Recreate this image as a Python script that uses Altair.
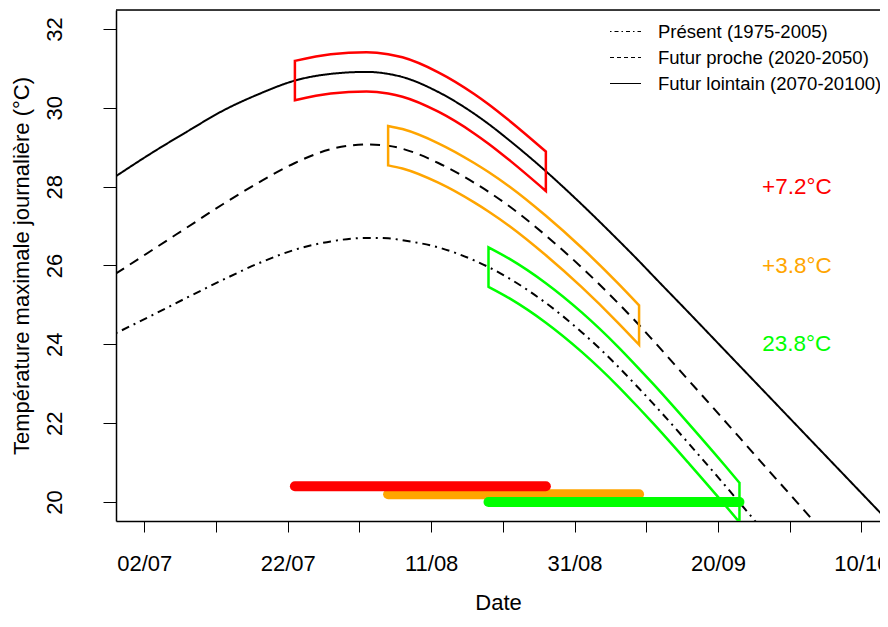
import altair as alt
import pandas as pd

# ---- data (day of year, 2021 calendar) ----
days = [179, 184, 189, 194, 199, 204, 209, 214, 217, 219, 224, 229, 231, 234,
        239, 244, 249, 252, 254, 259, 264, 266, 269, 274, 279, 284, 287]

present = [24.28, 24.73, 25.19, 25.64, 26.06, 26.40, 26.61, 26.70, 26.69, 26.64,
           26.46, 26.13, 25.96, 25.66, 25.05, 24.31, 23.45, 22.88, 22.49, 21.47,
           20.42, 19.99, 19.34, None, None, None, None]
futur_proche = [25.79, 26.38, 26.97, 27.56, 28.11, 28.60, 28.95, 29.07, 29.04, 28.96,
                28.60, 28.10, 27.87, 27.49, 26.76, 25.95, 25.06, 24.49, 24.09, 23.07,
                22.05, 21.64, 21.02, 20.00, 18.97, None, None]
futur_lointain = [28.26, 28.85, 29.40, 29.93, 30.35, 30.69, 30.86, 30.91, 30.86, 30.78,
                  30.40, 29.85, 29.59, 29.16, 28.39, 27.55, 26.66, 26.11, 25.73, 24.79,
                  23.84, 23.46, 22.89, 21.94, 20.99, 20.04, 19.47]

series_names = ["Présent (1975-2005)", "Futur proche (2020-2050)", "Futur lointain (2070-20100)"]
series_values = [present, futur_proche, futur_lointain]

window_start = [231, 217, 204]
window_end = [266, 252, 239]
bar_levels = [20.0, 20.2, 20.4]
half_width = 0.5
window_colors = ["#00FF00", "#FFA500", "#FF0000"]

annot_labels = ["23.8°C", "+3.8°C", "+7.2°C"]
annot_day = [274, 274, 274]
annot_temp = [24, 26, 28]

tick_days = [183, 193, 203, 213, 223, 233, 243, 253, 263, 273, 283]
tick_labels = ["02/07", "", "22/07", "", "11/08", "", "31/08", "", "20/09", "", "10/10"]
y_ticks = [20, 22, 24, 26, 28, 30, 32]
x_domain = [179.05, 285.6]
y_domain = [19.52, 32.48]

FONT = "Liberation Sans"

# ---- tables ----
curve_rows = []
for name, vals in zip(series_names, series_values):
    for d, v in zip(days, vals):
        if v is not None:
            curve_rows.append({"day": d, "temp": v, "series": name})
curves = pd.DataFrame(curve_rows)

band_rows = []
for name, vals, s, e in zip(series_names, series_values, window_start, window_end):
    for d, v in zip(days, vals):
        if v is not None and s <= d <= e:
            band_rows.append({"day": d, "upper": v + half_width, "lower": v - half_width, "series": name})
bands = pd.DataFrame(band_rows)

draw_order = [1, 2, 0]
bars = pd.DataFrame([
    {"start": window_start[i], "end": window_end[i], "level": bar_levels[i],
     "series": series_names[i], "rank": k}
    for k, i in enumerate(draw_order)
])

annots = pd.DataFrame({"day": annot_day, "temp": annot_temp, "label": annot_labels,
                       "series": series_names})

frame_top = pd.DataFrame({"temp": [y_domain[1]]})

# ---- scales / axes ----
xscale = alt.Scale(domain=x_domain, nice=False, zero=False)
yscale = alt.Scale(domain=y_domain, nice=False, zero=False)
color_scale = alt.Scale(domain=series_names, range=window_colors)

label_expr = "''"
for d, l in reversed(list(zip(tick_days, tick_labels))):
    label_expr = f"datum.value == {d} ? '{l}' : ({label_expr})"

x_axis = alt.Axis(values=tick_days, labelExpr=label_expr, tickSize=11, labelPadding=21,
                  labelFontSize=22, labelFont=FONT, labelColor="black", tickColor="black",
                  title="Date", titleFontSize=22, titleFont=FONT, titleFontWeight="normal",
                  titleColor="black", titleBaseline="alphabetic", titleY=88,
                  domainColor="black", domainWidth=1.5, grid=False,
                  labelOverlap=False, labelFlush=False)
y_axis = alt.Axis(values=y_ticks, format="d", tickSize=13, labelPadding=49, labelAngle=270,
                  labelAlign="center", labelBaseline="middle", labelFontSize=22,
                  labelFont=FONT, labelColor="black", tickColor="black",
                  title="Température maximale journalière (°C)", titleFontSize=22,
                  titleFont=FONT, titleFontWeight="normal", titleColor="black",
                  titleAngle=270, titleAlign="center", titleBaseline="alphabetic",
                  titleX=-88, titleY=255.5, domainColor="black", domainWidth=1.5,
                  grid=False, labelOverlap=False)

base_c = alt.Chart(curves)

lines = base_c.mark_line(color="black", strokeWidth=2, interpolate="monotone", clip=True).encode(
    x=alt.X("day:Q", scale=xscale, axis=x_axis),
    y=alt.Y("temp:Q", scale=yscale, axis=y_axis),
    strokeDash=alt.StrokeDash("series:N", scale=alt.Scale(domain=series_names,
                              range=[[2, 5, 8, 5], [10, 7], [1, 0]]), legend=None),
)

legend_layer = base_c.mark_line(color="black", opacity=0, clip=True).encode(
    x=alt.X("day:Q", scale=xscale),
    y=alt.Y("temp:Q", scale=yscale),
    strokeDash=alt.StrokeDash("series:N", scale=alt.Scale(domain=series_names,
                              range=[[1.5, 3, 4, 3], [4, 3], [1, 0]]),
                              legend=alt.Legend(title=None, orient="none", legendX=493, legendY=5,
                                                labelFontSize=18.5, labelFont=FONT, labelColor="black",
                                                labelLimit=500,
                                                symbolType="stroke", symbolSize=961,
                                                symbolStrokeWidth=1.2, symbolStrokeColor="black",
                                                symbolOpacity=1, labelOffset=16, rowPadding=-5,
                                                padding=0)),
)

frame_layer = alt.Chart(frame_top).mark_rule(color="black", strokeWidth=1.5).encode(
    y=alt.Y("temp:Q", scale=yscale),
)

band_layer = alt.Chart(bands).mark_area(fillOpacity=0, strokeWidth=2.5, interpolate="monotone",
                                        clip=True).encode(
    x=alt.X("day:Q", scale=xscale),
    y=alt.Y("upper:Q", scale=yscale),
    y2="lower:Q",
    stroke=alt.Stroke("series:N", scale=color_scale, legend=None),
    detail="series:N",
)

bar_layer = alt.Chart(bars).mark_rule(strokeWidth=10, strokeCap="round").encode(
    x=alt.X("start:Q", scale=xscale),
    x2="end:Q",
    y=alt.Y("level:Q", scale=yscale),
    color=alt.Color("series:N", scale=color_scale, legend=None),
    order="rank:Q",
)

text_layer = alt.Chart(annots).mark_text(fontSize=22.5, font=FONT, align="center",
                                         baseline="middle").encode(
    x=alt.X("day:Q", scale=xscale),
    y=alt.Y("temp:Q", scale=yscale),
    text="label:N",
    color=alt.Color("series:N", scale=color_scale, legend=None),
)

chart = alt.layer(lines, legend_layer, frame_layer, band_layer, bar_layer, text_layer).resolve_scale(
    strokeDash="independent"
).properties(
    width=764, height=511,
    autosize=alt.AutoSizeParams(type="none"),
    padding={"left": 108, "top": 2, "right": 0, "bottom": 93},
).configure_view(strokeWidth=0).configure(font=FONT, background="white")

chart.save("out.html", embed_options={"renderer": "svg", "actions": False})
